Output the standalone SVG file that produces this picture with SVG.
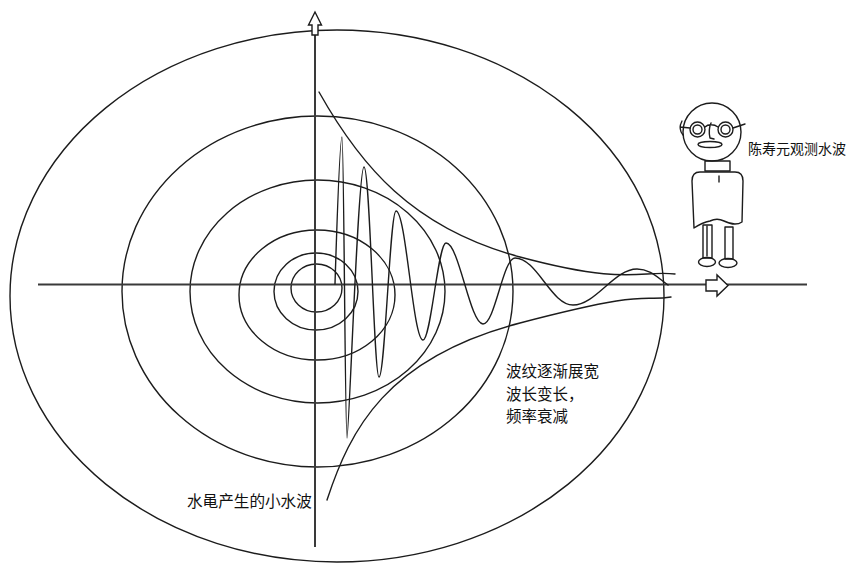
<svg xmlns="http://www.w3.org/2000/svg" width="859" height="570" viewBox="0 0 859 570">
  <style>
    .ln { fill: none; stroke: #1c1c1c; stroke-width: 1.4; stroke-linecap: round; stroke-linejoin: round; }
    .axis { fill: none; stroke: #3a3a3a; stroke-width: 2; }
    .arw { fill: #ffffff; stroke: #1c1c1c; stroke-width: 1.4; stroke-linejoin: miter; }
    .lbl { font-family: "Noto Sans CJK SC", "Noto Sans", sans-serif; fill: #111111; }
  </style>
  <rect width="859" height="570" fill="#ffffff"/>

  <!-- concentric ripples -->
  <g id="ripples">
    <ellipse class="ln" cx="337" cy="296" rx="327" ry="266"/>
    <ellipse class="ln" cx="317.5" cy="291.5" rx="195.5" ry="175.5"/>
    <ellipse class="ln" cx="317.5" cy="291.5" rx="127.5" ry="111.5"/>
    <ellipse class="ln" cx="317" cy="295" rx="78" ry="65"/>
    <ellipse class="ln" cx="316" cy="291.5" rx="42" ry="38.5"/>
    <ellipse class="ln" cx="316.5" cy="288" rx="25.5" ry="24"/>
  </g>

  <!-- coordinate axes -->
  <g id="axes">
    <line class="axis" x1="38" y1="284.5" x2="807" y2="284.5"/>
    <line class="axis" x1="315" y1="30" x2="315" y2="547"/>
    <polygon class="arw" points="315,12 321.5,25 318,25 318,35 312,35 312,25 308.5,25"/>
    <polygon class="arw" points="706,280 717,280 717,275 728,285.5 717,296 717,291 706,291"/>
  </g>

  <!-- decay envelope and damped wave -->
  <g id="connectors">
    <path class="ln" d="M319,92 C360,165 412,228 520,257 S640,270 675,274"/>
    <path class="ln" d="M327,500 C350,430 386,358 520,323 S640,302 671,297"/>
    <path class="ln" d="M335,284 C337,220 340,137 342,137 C344,137 345,438 347,438 C349,438 358,167 364,167 C370,167 374,377 379,377 C385,377 390,211 396,211 C406,211 413,340 423,340 C431,340 438,243 446,243 C459,243 470,324 483,324 C495,324 503,258 515,258 C537,258 551,305 573,305 C596,305 614,269 637,269 C650,269 658,278 668,285"/>
  </g>

  <!-- observer figure -->
  <g id="observer">
    <ellipse class="ln" cx="712" cy="132" rx="29" ry="29"/>
    <circle class="ln" cx="697.5" cy="129.5" r="7.5"/>
    <circle class="ln" cx="697.5" cy="129.5" r="4.5"/>
    <circle class="ln" cx="725.5" cy="129.5" r="7.5"/>
    <circle class="ln" cx="725.5" cy="129.5" r="4.5"/>
    <path class="ln" d="M680,127 L690,128 M705,127 C708,124 714,124 718,127 M733,128 L745,124 M682,121 C679,126 680,132 683,135 M711,123 C709,128 709,134 710,138 L714,139"/>
    <ellipse class="ln" cx="710" cy="144.5" rx="12" ry="3"/>
    <rect class="ln" x="705" y="161" width="25" height="10"/>
    <path class="ln" d="M694,228 L692,181 Q692,172 700,172 L735,172 Q743,172 743,181 L742,222 C736,226 730,224 724,221 C718,218 714,219 710,221 C705,222 700,224 694,228 Z"/>
    <line class="ln" x1="719" y1="176" x2="719" y2="182"/>
    <rect class="ln" x="703" y="225" width="9" height="33"/>
    <line class="ln" x1="707" y1="226" x2="707" y2="256"/>
    <rect class="ln" x="725" y="227" width="8" height="32"/>
    <ellipse class="ln" cx="707" cy="262" rx="8.5" ry="4.5"/>
    <ellipse class="ln" cx="728" cy="263" rx="9" ry="4.5"/>
  </g>

  <!-- annotations -->
  <g id="labels">
    <text class="lbl" x="748" y="154" font-size="14">陈寿元观测水波</text>
    <text class="lbl" x="506" y="377" font-size="15.5">波纹逐渐展宽</text>
    <text class="lbl" x="506" y="400" font-size="15.5">波长变长，</text>
    <text class="lbl" x="506" y="422" font-size="15.5">频率衰减</text>
    <text class="lbl" x="187" y="507" font-size="15.6">水黾产生的小水波</text>
  </g>
</svg>
